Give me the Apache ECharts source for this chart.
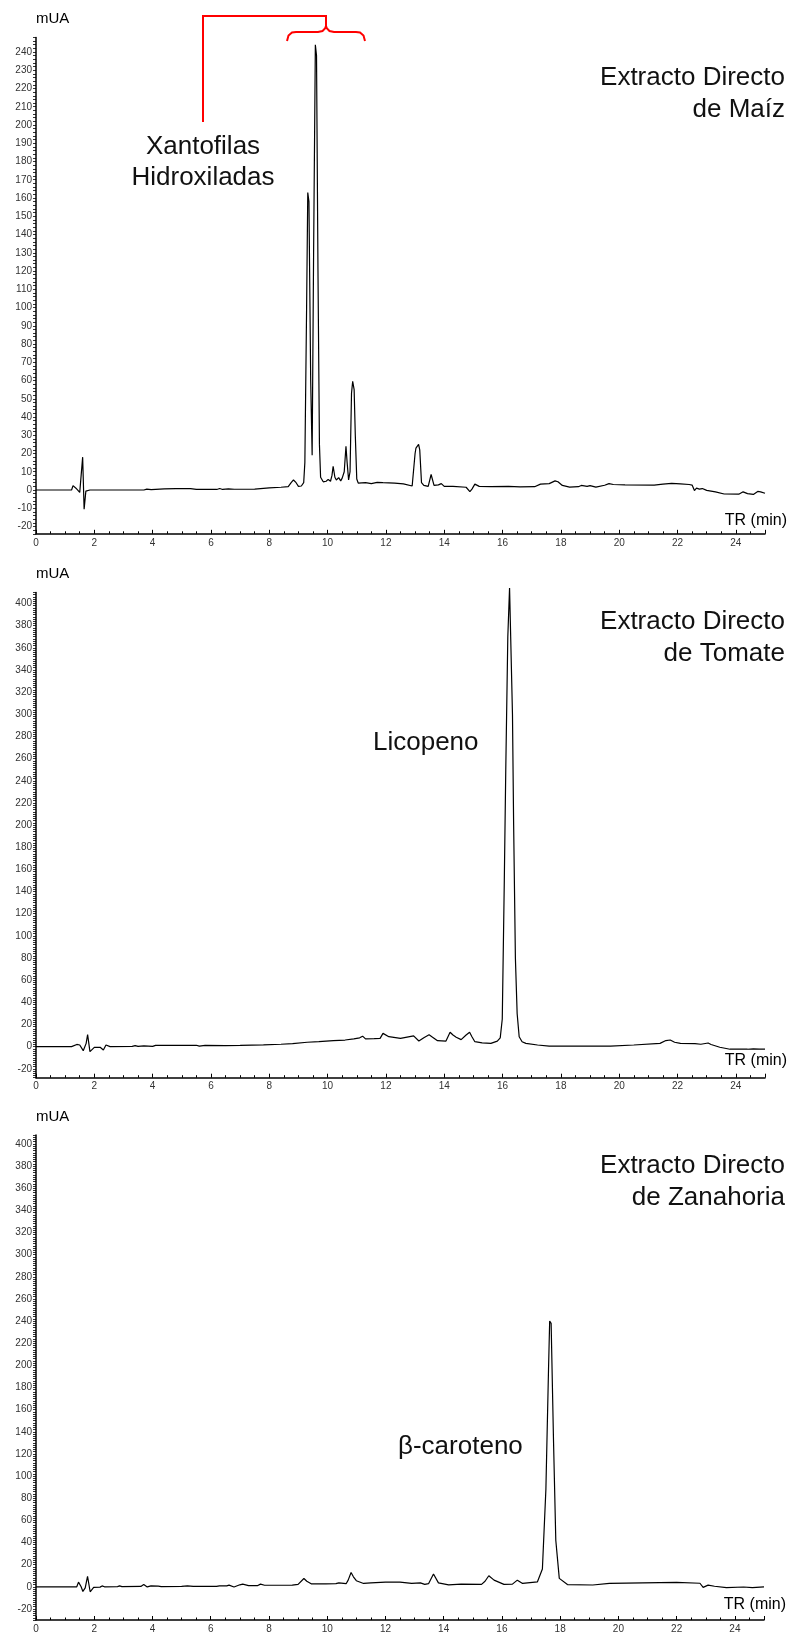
<!DOCTYPE html>
<html>
<head>
<meta charset="utf-8">
<title>Cromatogramas HPLC</title>
<script src="https://cdn.jsdelivr.net/npm/echarts@6/dist/echarts.min.js"></script>
<style>
  html, body { margin: 0; padding: 0; background: #fff; }
  #chart { width: 790px; height: 1634px; }
</style>
</head>
<body>
<div id="chart"></div>
<script>
// [TR (min), mUA]
var maiz = [
  [0, 0], [1.22, 0], [1.27, 2.4], [1.37, 1.0], [1.5, -1.3], [1.55, -1.0], [1.6, 18], [1.65, -10.5],
  [1.71, -0.6], [1.85, 0], [3.7, 0], [3.8, 0.5], [3.95, 0.2], [4.4, 0.6], [4.8, 0.7], [4.85, 0.2],
  [4.9, 0.7], [5.3, 0.8], [5.5, 0.3], [6.2, 0.3], [6.3, 0.8], [6.4, 0.3], [6.6, 0.6], [6.8, 0.4],
  [7.5, 0.5], [7.55, 1.0], [8.0, 1.2], [8.4, 1.5], [8.65, 1.8], [8.75, 4], [8.83, 5.5], [8.92, 4],
  [9.0, 2], [9.1, 2.2], [9.18, 4], [9.22, 15], [9.28, 100], [9.32, 163], [9.36, 158], [9.42, 60],
  [9.47, 19], [9.52, 130], [9.58, 244], [9.62, 238], [9.67, 120], [9.72, 25], [9.76, 7], [9.85, 4.5],
  [9.95, 4.8], [10.02, 5.8], [10.1, 4.8], [10.15, 8], [10.19, 13], [10.25, 7], [10.3, 5.5], [10.38, 6.8],
  [10.45, 5], [10.5, 6.5], [10.57, 10], [10.63, 24], [10.67, 15], [10.72, 5.5], [10.77, 10], [10.82, 53],
  [10.86, 59.5], [10.91, 55], [10.95, 30], [11.0, 6], [11.05, 3.8], [11.3, 4], [11.5, 3.5], [11.7, 4.2],
  [11.9, 4], [12.3, 3.8], [12.6, 3.4], [12.9, 2.2], [12.95, 1.8], [13.0, 20], [13.03, 23], [13.12, 25],
  [13.16, 22], [13.22, 4], [13.3, 2.5], [13.45, 2], [13.55, 8.5], [13.6, 8.5], [13.65, 2.5], [13.8, 2.8],
  [13.9, 3.5], [14.0, 2], [14.3, 2], [14.75, 1.5], [14.88, -0.9], [14.95, 0.5], [15.05, 3.2], [15.2, 2],
  [15.6, 1.8], [16.2, 2], [16.6, 1.7], [17.1, 1.8], [17.3, 3.2], [17.6, 3.5], [17.8, 5.0], [17.9, 4.5],
  [18.05, 2.5], [18.3, 1.6], [18.6, 1.8], [18.7, 2.5], [18.9, 2], [19.0, 2.4], [19.2, 1.6], [19.5, 2.6],
  [19.65, 3.5], [19.8, 3.0], [20.2, 2.8], [21.2, 2.7], [21.5, 3.2], [21.8, 3.6], [22.1, 3.4], [22.4, 3.0],
  [22.5, 2.7], [22.58, -0.3], [22.65, 1.0], [22.75, 0.5], [22.85, 0.8], [23.0, -0.2], [23.3, -1.0],
  [23.6, -2.2], [24.1, -2.3], [24.25, -1.0], [24.4, -2.0], [24.6, -2.4], [24.75, -0.8], [24.85, -1.0],
  [25, -1.8]
];

var tomate = [
  [0, 0], [1.05, 0], [1.11, 1.5], [1.22, 0], [1.4, 2], [1.5, 1.5], [1.62, -3.6], [1.72, 3], [1.77, 11],
  [1.85, -4.5], [2.0, -0.6], [2.2, -0.5], [2.31, -3], [2.4, 1.5], [2.54, 0], [3.3, 0.3], [3.4, 1],
  [3.5, 0.3], [3.7, 0.8], [4.0, 0.3], [4.1, 1.2], [5.5, 1.3], [5.6, 0.5], [5.8, 1.2], [6.5, 1.0],
  [7.0, 1.2], [7.8, 1.7], [8.4, 2.2], [8.8, 2.8], [9.3, 4], [9.7, 4.6], [10.2, 5.5], [10.6, 6],
  [10.9, 7], [11.1, 8], [11.2, 9.5], [11.3, 7], [11.6, 7.2], [11.8, 7.5], [11.9, 12], [12.1, 9],
  [12.5, 7.5], [12.95, 9.7], [13.13, 5.1], [13.3, 8], [13.48, 10.7], [13.6, 8.5], [13.77, 5.4],
  [14.06, 5.1], [14.2, 13], [14.3, 10.5], [14.41, 8.5], [14.58, 6.4], [14.75, 10.5], [14.87, 13],
  [14.95, 9], [15.05, 4.5], [15.3, 3.5], [15.6, 3], [15.82, 5], [15.92, 8], [15.99, 25], [16.06, 150],
  [16.11, 250], [16.18, 370], [16.24, 414], [16.29, 414], [16.34, 300], [16.38, 200], [16.44, 80],
  [16.5, 30], [16.57, 9], [16.67, 4.5], [16.8, 3], [17.2, 1.5], [17.6, 0.5], [19.7, 0.5], [20.5, 1.5],
  [21.4, 3], [21.6, 5.5], [21.75, 6], [21.9, 4], [22.1, 3], [22.6, 2.7], [22.8, 2.2], [23.05, 3.3],
  [23.15, 2], [23.45, -0.5], [23.8, -2.3], [24.4, -2.3], [24.6, -1.9], [24.8, -2.2], [25, -2.3]
];

var zanahoria = [
  [0, 0], [1.4, 0], [1.46, 4.2], [1.55, 0], [1.61, -4.2], [1.69, -1], [1.77, 9.5], [1.86, -4.5],
  [1.98, -0.6], [2.2, -0.3], [2.27, 0.8], [2.35, 0], [2.8, 0.2], [2.87, 0.8], [2.95, 0.2], [3.6, 0.3],
  [3.7, 2.1], [3.82, -0.1], [3.95, 0.8], [4.2, 0.6], [4.3, 0.2], [5.0, 0.3], [5.2, 0.8], [5.4, 0.3],
  [6.2, 0.4], [6.3, 0.9], [6.55, 0.8], [6.63, 1.5], [6.8, -0.2], [7.0, 1.8], [7.1, 2.4], [7.3, 1.0],
  [7.6, 1.0], [7.71, 2.4], [7.85, 1.4], [8.8, 1.5], [9.0, 2.2], [9.2, 7.5], [9.3, 5], [9.45, 2.7],
  [9.95, 2.7], [10.0, 3.3], [10.3, 2.8], [10.4, 3.5], [10.65, 2.8], [10.72, 6], [10.82, 12.9],
  [10.9, 9], [11.0, 5.5], [11.25, 3], [11.5, 3.6], [12.0, 4.2], [12.5, 4.2], [12.9, 3], [13.2, 3.5],
  [13.35, 2.2], [13.48, 2.8], [13.65, 11.5], [13.82, 3.5], [14.17, 1.8], [14.6, 2.4], [15.3, 2.2],
  [15.42, 5], [15.55, 10], [15.73, 6], [16.07, 2.2], [16.36, 2.4], [16.53, 6], [16.71, 3], [17.22, 4.5],
  [17.39, 16], [17.51, 88], [17.6, 196], [17.64, 240], [17.69, 238], [17.77, 134], [17.85, 42],
  [17.97, 7.6], [18.25, 2], [19.12, 1.6], [19.69, 3], [20.84, 3.5], [22.0, 4], [22.8, 3.2],
  [22.91, -0.5], [23.08, 1.5], [23.3, 0.5], [23.71, -0.7], [24.3, -0.2], [24.6, -0.8], [25, -0.1]
];

// axis extents (mUA) and label step per panel
var yMin = [-24, -28, -30];
var yMax = [248, 410, 408];
var yLabelStep = [10, 20, 20];
var xMin = 0, xMax = 25, xLabelStep = 2;

(function () {
  var font = '"Liberation Sans", Arial, sans-serif';
  var ink = '#000';
  var chart = echarts.init(document.getElementById('chart'));

  // grid boxes in px: top, height
  var boxes = [
    { top: 37.4, height: 496.4, right: 25 },
    { top: 592.4, height: 485.3, right: 25 },
    { top: 1135.1, height: 485.1, right: 26 }
  ];
  var trPad = [5, 9, 7];

  var grids = [], xAxes = [], yAxes = [];
  boxes.forEach(function (b, i) {
    grids.push({ left: 36, right: b.right, top: b.top, height: b.height, containLabel: false });
    xAxes.push({
      gridIndex: i, type: 'value', min: xMin, max: xMax, interval: xLabelStep,
      name: 'TR (min)', nameLocation: 'end', nameGap: 22,
      nameTextStyle: { align: 'right', verticalAlign: 'bottom', padding: [0, 0, trPad[i], 0], fontSize: 16, color: ink, fontFamily: font },
      axisLine: { show: true, onZero: false, lineStyle: { color: ink, width: 1.5 } },
      axisTick: { show: true, inside: true, length: 4, lineStyle: { color: ink, width: 1 } },
      minorTick: { show: true, splitNumber: 4, length: 2.5, lineStyle: { color: ink, width: 1 } },
      axisLabel: {
        fontSize: 10, color: '#333', margin: 4, fontFamily: font,
        formatter: function (v) { return v % xLabelStep === 0 ? String(v) : ''; }
      },
      splitLine: { show: false }
    });
    yAxes.push({
      gridIndex: i, type: 'value', min: yMin[i], max: yMax[i], interval: 2,
      name: 'mUA', nameLocation: 'end', nameGap: 11,
      nameTextStyle: { align: 'left', fontSize: 15, color: ink, fontFamily: font },
      axisLine: { show: true, onZero: false, lineStyle: { color: ink, width: 1.5 } },
      axisTick: { show: true, length: 3, lineStyle: { color: ink, width: 0.8 } },
      axisLabel: {
        fontSize: 10, color: '#333', margin: 4, fontFamily: font,
        formatter: function (v) { return v % yLabelStep[i] === 0 ? String(v) : ''; }
      },
      splitLine: { show: false }
    });
  });

  var traces = [maiz, tomate, zanahoria];
  var series = traces.map(function (d, i) {
    return {
      type: 'line', xAxisIndex: i, yAxisIndex: i, data: d,
      showSymbol: false, symbol: 'none', clip: false, silent: true,
      lineStyle: { color: ink, width: 1.2 }
    };
  });

  function label(text, x, y, align, lh) {
    return {
      type: 'text', x: x, y: y, z: 10,
      style: { text: text, font: '26px ' + font, fill: '#111', textAlign: align, textVerticalAlign: 'top', lineHeight: lh || 32 }
    };
  }

  var red = { stroke: '#f00', lineWidth: 2, fill: null };

  chart.setOption({
    animation: false,
    grid: grids,
    xAxis: xAxes,
    yAxis: yAxes,
    series: series,
    graphic: [
      label('Extracto Directo\nde Maíz', 785, 62, 'right'),
      label('Extracto Directo\nde Tomate', 785, 606, 'right'),
      label('Extracto Directo\nde Zanahoria', 785, 1150, 'right'),
      label('Xantofilas\nHidroxiladas', 203, 131, 'center', 31),
      label('Licopeno', 373, 727, 'left'),
      label('β-caroteno', 398, 1431, 'left'),
      // red bracket over the hydroxylated xanthophyll peaks
      { type: 'polyline', z: 10, shape: { points: [[203, 122], [203, 16], [326, 16], [326, 26]] }, style: red },
      {
        type: 'polyline', z: 10,
        shape: { points: [[287, 41], [288.5, 35.5], [292, 32.5], [296, 32], [318, 32], [322.5, 31], [325, 28.5], [326, 26],
          [327, 28.5], [329.5, 31], [334, 32], [356, 32], [360, 32.5], [363.5, 35.5], [365, 41]] },
        style: red
      }
    ]
  });
  window.addEventListener('resize', function () { chart.resize(); });
})();
</script>
</body>
</html>
